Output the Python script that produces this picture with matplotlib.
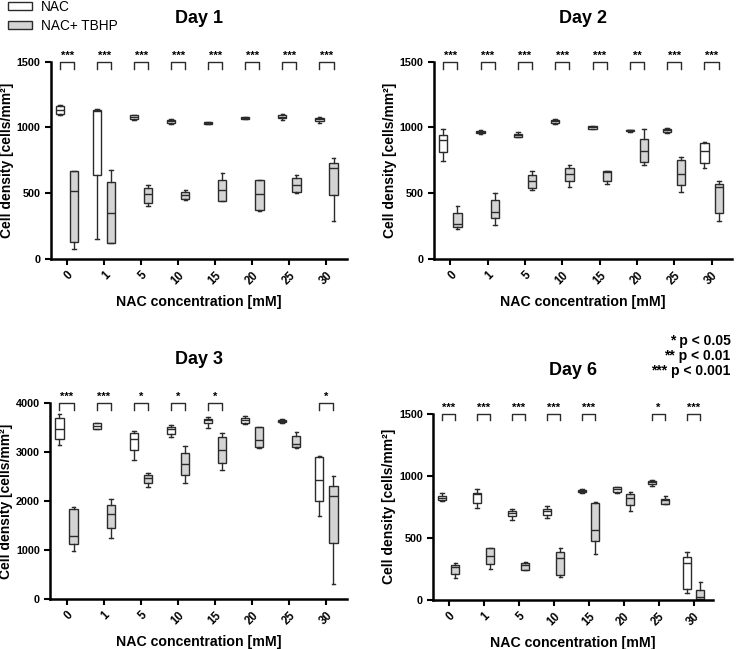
import numpy as np
import matplotlib
matplotlib.use('Agg')
import matplotlib.pyplot as plt
from matplotlib.patches import Patch

plt.rcParams['font.family'] = ['Liberation Sans', 'DejaVu Sans']
plt.rcParams['font.weight'] = 'bold'

conc = ['0', '1', '5', '10', '15', '20', '25', '30']

# each row: [whisker low, q1, median, q3, whisker high]
day1_nac = [[1095, 1100, 1135, 1160, 1168], [155, 637, 1125, 1132, 1140], [1060, 1065, 1082, 1092, 1095],
            [1025, 1035, 1048, 1058, 1065], [1025, 1028, 1035, 1040, 1045], [1062, 1065, 1072, 1078, 1080],
            [1058, 1068, 1080, 1092, 1105], [1035, 1050, 1065, 1075, 1082]]
day1_tbhp = [[75, 132, 518, 665, 665], [120, 124, 346, 584, 680], [406, 426, 492, 541, 563],
             [449, 454, 487, 508, 528], [437, 444, 528, 599, 650], [363, 371, 495, 599, 604],
             [505, 510, 561, 612, 642], [289, 487, 695, 731, 764]]

day2_nac = [[748, 811, 905, 945, 986], [950, 955, 963, 973, 981], [925, 930, 940, 950, 965],
            [1029, 1036, 1049, 1059, 1064], [986, 988, 1001, 1009, 1011], [968, 972, 977, 981, 984],
            [960, 965, 978, 988, 993], [689, 727, 818, 884, 892]]
day2_tbhp = [[231, 241, 264, 352, 403], [256, 312, 360, 446, 504], [522, 542, 595, 636, 666],
             [550, 593, 644, 694, 712], [569, 589, 660, 665, 668], [714, 735, 818, 912, 991],
             [512, 560, 646, 750, 773], [289, 350, 547, 568, 595]]

day3_nac = [[3153, 3261, 3478, 3688, 3770], [3470, 3478, 3530, 3587, 3600], [2834, 3037, 3275, 3390, 3424],
            [3302, 3363, 3480, 3519, 3553], [3499, 3593, 3648, 3681, 3709], [3580, 3593, 3648, 3695, 3729],
            [3600, 3607, 3640, 3661, 3670], [1702, 2000, 2427, 2902, 2915]]
day3_tbhp = [[983, 1119, 1295, 1831, 1885], [1241, 1451, 1736, 1912, 2048], [2278, 2373, 2475, 2529, 2563],
             [2359, 2529, 2753, 2970, 3132], [2637, 2780, 3037, 3309, 3390], [3078, 3105, 3241, 3512, 3519],
             [3092, 3105, 3173, 3322, 3404], [305, 1139, 2102, 2305, 2509]]

day6_nac = [[800, 805, 819, 837, 864], [738, 778, 851, 864, 891], [644, 676, 697, 714, 730],
            [657, 681, 716, 735, 757], [864, 867, 875, 883, 894], [862, 870, 894, 908, 910],
            [921, 937, 951, 961, 967], [57, 92, 294, 345, 388]]
day6_tbhp = [[178, 213, 267, 285, 299], [253, 288, 353, 415, 420], [240, 245, 280, 299, 304],
             [186, 199, 342, 388, 415], [374, 477, 560, 784, 789], [716, 768, 824, 851, 873],
             [773, 776, 805, 816, 840], [3, 5, 24, 83, 145]]

sig1 = ['***', '***', '***', '***', '***', '***', '***', '***']
sig2 = ['***', '***', '***', '***', '***', '**', '***', '***']
sig3 = ['***', '***', '*', '*', '*', '', '', '*']
sig6 = ['***', '***', '***', '***', '***', '', '*', '***']

panels = [
    ('Day 1', day1_nac, day1_tbhp, sig1, 1500, 500, [0.069, 0.601, 0.401, 0.304]),
    ('Day 2', day2_nac, day2_tbhp, sig2, 1500, 500, [0.588, 0.601, 0.404, 0.304]),
    ('Day 3', day3_nac, day3_tbhp, sig3, 4000, 1000, [0.068, 0.077, 0.402, 0.302]),
    ('Day 6', day6_nac, day6_tbhp, sig6, 1500, 500, [0.587, 0.0755, 0.379, 0.287]),
]

edge = '#2b2b2b'
gray = '#d4d4d4'


def to_stats(rows):
    return [dict(whislo=r[0], q1=r[1], med=r[2], q3=r[3], whishi=r[4], fliers=[]) for r in rows]


fig = plt.figure(figsize=(7.38, 6.49), dpi=100)

for title, nac, tbhp, sig, ymax, ystep, pos in panels:
    ax = fig.add_axes(pos)
    x = np.arange(len(conc))
    off = 0.19
    w = 0.22
    for data, shift, fc in [(nac, -off, 'white'), (tbhp, off, gray)]:
        ax.bxp(to_stats(data), positions=x + shift, widths=w, patch_artist=True, showfliers=False,
               boxprops=dict(facecolor=fc, edgecolor=edge, linewidth=1),
               medianprops=dict(color=edge, linewidth=1),
               whiskerprops=dict(color=edge, linewidth=1),
               capprops=dict(color=edge, linewidth=1),
               capwidths=0.1, manage_ticks=False)
    # significance brackets
    for i, s in enumerate(sig):
        if not s:
            continue
        x0, x1 = i - off, i + off
        ax.plot([x0, x0, x1, x1], [ymax * 0.965, ymax, ymax, ymax * 0.965], color=edge, lw=1, clip_on=False)
        ax.text(i, ymax * 1.005, s, ha='center', va='bottom', fontsize=8, clip_on=False)

    ax.set_xlim(-0.44, 7.55)
    ax.set_ylim(0, ymax)
    ax.set_yticks(np.arange(0, ymax + 1, ystep))
    ax.set_xticks(x)
    ax.set_xticklabels(conc, rotation=45, ha='right', rotation_mode='anchor', fontsize=8.3, fontweight='bold')
    for lab in ax.get_yticklabels():
        lab.set_fontsize(7.8)
        lab.set_fontweight('bold')
    ax.spines['top'].set_visible(False)
    ax.spines['right'].set_visible(False)
    ax.spines['left'].set_linewidth(1.8)
    ax.spines['bottom'].set_linewidth(1.8)
    ax.tick_params(width=1.5, length=4)
    ax.set_ylabel('Cell density [cells/mm²]', fontsize=10, fontweight='bold', labelpad=2)
    ax.set_xlabel('NAC concentration [mM]', fontsize=10.2, fontweight='bold', labelpad=6)
    ax.set_title(title, fontsize=13, fontweight='bold', pad=28)

fig.legend(handles=[Patch(facecolor='white', edgecolor=edge, label='NAC'),
                    Patch(facecolor=gray, edgecolor=edge, label='NAC+ TBHP')],
           loc='upper left', bbox_to_anchor=(8 / 738, 1.0), frameon=False,
           borderpad=0, borderaxespad=0, handlelength=1.75, handleheight=0.55,
           handletextpad=0.7, labelspacing=0.35,
           prop=dict(size=9.8, weight='normal'))

fig.text(0.99, 0.485, '* p < 0.05\n** p < 0.01\n*** p < 0.001', ha='right', va='top',
         fontsize=10, fontweight='bold', linespacing=1.1, multialignment='right')

fig.savefig('out.png', dpi=100)
